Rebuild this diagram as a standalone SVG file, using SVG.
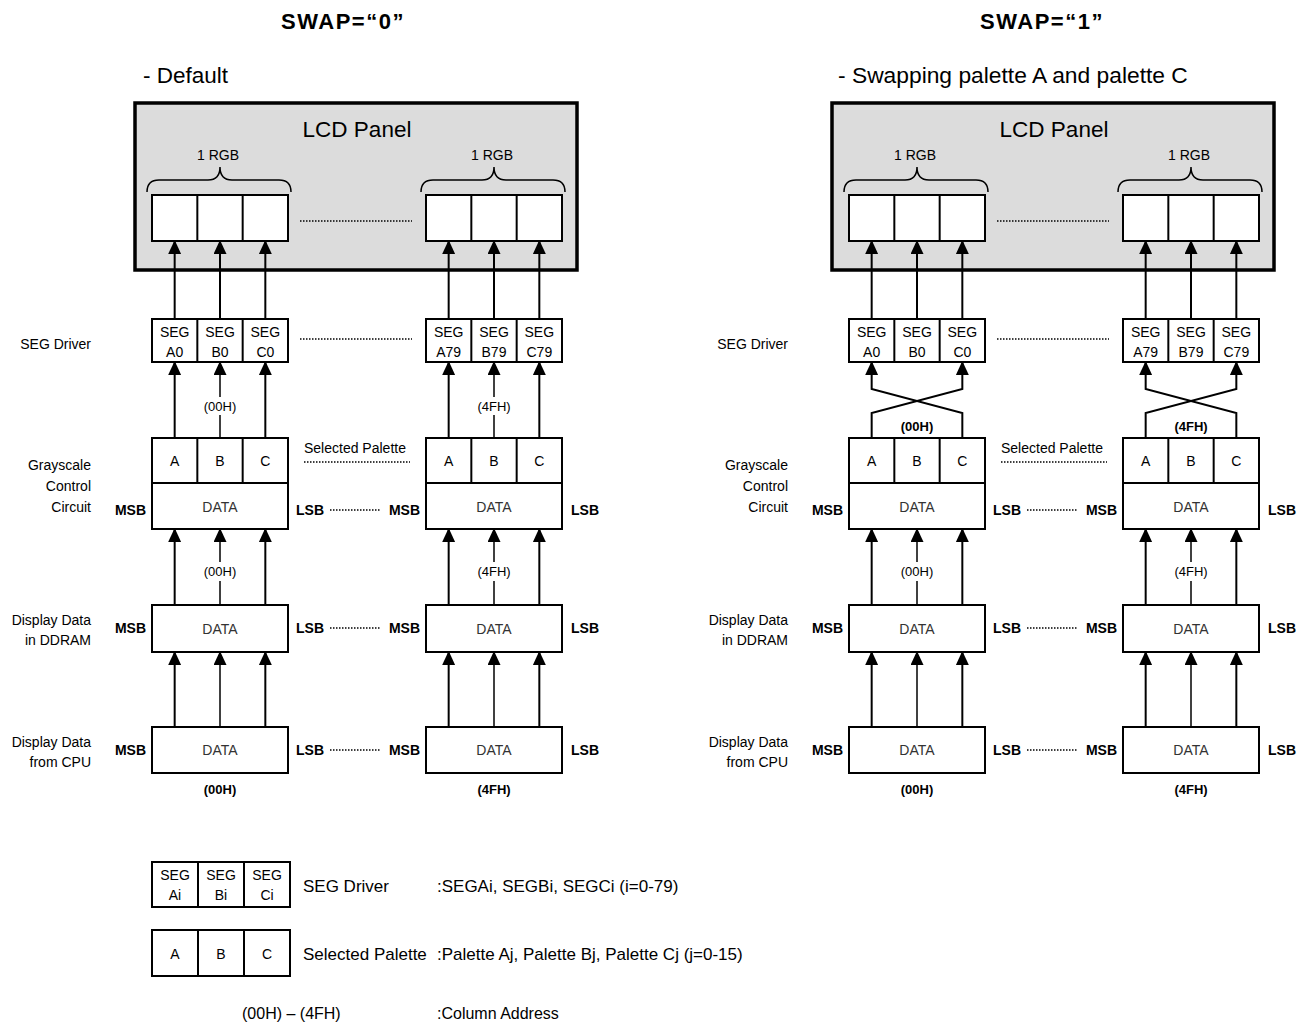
<svg xmlns="http://www.w3.org/2000/svg" width="1308" height="1025" viewBox="0 0 1308 1025">
<style>
.box{fill:#fff;stroke:#000;stroke-width:2}
.ln{stroke:#000;stroke-width:2;fill:none}
.t{font-family:"Liberation Sans",Arial,sans-serif;fill:#000;font-size:14px}
.c{text-anchor:middle}
.e{text-anchor:end}
.b{font-weight:bold}
.g{fill:#333}
.dot{stroke:#000;stroke-width:1.5;stroke-dasharray:1.5 1.5;fill:none}
.ar{stroke:#000;stroke-width:2;fill:none;marker-end:url(#ah)}
.arm{stroke:#000;stroke-width:1.5;fill:none}
.arm2{stroke:#000;stroke-width:1.5;fill:none;marker-end:url(#ah)}
.brace{stroke:#000;stroke-width:1.5;fill:none}
</style>
<defs>
<marker id="ah" viewBox="0 0 14 13" refX="13" refY="6.5" markerWidth="14" markerHeight="13" markerUnits="userSpaceOnUse" orient="auto"><path d="M0,0 L14,6.5 L0,13 z" fill="#000"/></marker>
</defs>
<rect width="1308" height="1025" fill="#fff"/>

<g id="headings">
<text class="t c b" x="343" y="29" style="font-size:22px;letter-spacing:1.5px">SWAP=“0”</text>
<text class="t c b" x="1042" y="29" style="font-size:22px;letter-spacing:1.5px">SWAP=“1”</text>
<text class="t" x="143" y="83" style="font-size:22.5px">- Default</text>
<text class="t" x="838" y="83" style="font-size:22.8px">- Swapping palette A and palette C</text>
</g>

<!-- ================= LEFT (SWAP=0) ================= -->
<g id="left">
<g id="lcd-panel-0">
<rect x="135" y="103" width="442" height="167" fill="#dcdcdc" stroke="#000" stroke-width="3.5"/>
<text class="t c" x="357" y="137" style="font-size:22.5px">LCD Panel</text>
<text class="t c" x="218" y="160">1 RGB</text>
<text class="t c" x="492" y="160">1 RGB</text>
<path class="brace" d="M147,192 Q147,180 159,180 L208,180 Q220,180 220,167 Q220,180 232,180 L279,180 Q291,180 291,192"/>
<path class="brace" d="M421,192 Q421,180 433,180 L482,180 Q494,180 494,167 Q494,180 506,180 L553,180 Q565,180 565,192"/>
<rect class="box" x="152" y="195" width="136" height="46"/>
<line class="ln" x1="197.33" y1="195" x2="197.33" y2="241"/>
<line class="ln" x1="242.67" y1="195" x2="242.67" y2="241"/>
<rect class="box" x="426" y="195" width="136" height="46"/>
<line class="ln" x1="471.33" y1="195" x2="471.33" y2="241"/>
<line class="ln" x1="516.67" y1="195" x2="516.67" y2="241"/>
<line class="dot" x1="300" y1="221" x2="412" y2="221"/>
</g>

<g id="seg-driver-0-00">
<rect class="box" x="152" y="319" width="136" height="43"/>
<line class="ln" x1="197.33" y1="319" x2="197.33" y2="362"/>
<line class="ln" x1="242.67" y1="319" x2="242.67" y2="362"/>
<text class="t c" x="174.67" y="337">SEG</text><text class="t c" x="174.67" y="357">A0</text>
<text class="t c" x="220" y="337">SEG</text><text class="t c" x="220" y="357">B0</text>
<text class="t c" x="265.33" y="337">SEG</text><text class="t c" x="265.33" y="357">C0</text>
</g>
<g id="seg-driver-0-4f">
<rect class="box" x="426" y="319" width="136" height="43"/>
<line class="ln" x1="471.33" y1="319" x2="471.33" y2="362"/>
<line class="ln" x1="516.67" y1="319" x2="516.67" y2="362"/>
<text class="t c" x="448.67" y="337">SEG</text><text class="t c" x="448.67" y="357">A79</text>
<text class="t c" x="494" y="337">SEG</text><text class="t c" x="494" y="357">B79</text>
<text class="t c" x="539.33" y="337">SEG</text><text class="t c" x="539.33" y="357">C79</text>
</g>
<line class="dot" x1="300" y1="339" x2="412" y2="339"/>

<g id="grayscale-0-00">
<rect class="box" x="152" y="438" width="136" height="91"/>
<line class="ln" x1="152" y1="483" x2="288" y2="483"/>
<line class="ln" x1="197.33" y1="438" x2="197.33" y2="483"/>
<line class="ln" x1="242.67" y1="438" x2="242.67" y2="483"/>
<text class="t c" x="174.67" y="466">A</text>
<text class="t c" x="220" y="466">B</text>
<text class="t c" x="265.33" y="466">C</text>
<text class="t c g" x="220" y="512">DATA</text>
</g>
<g id="grayscale-0-4f">
<rect class="box" x="426" y="438" width="136" height="91"/>
<line class="ln" x1="426" y1="483" x2="562" y2="483"/>
<line class="ln" x1="471.33" y1="438" x2="471.33" y2="483"/>
<line class="ln" x1="516.67" y1="438" x2="516.67" y2="483"/>
<text class="t c" x="448.67" y="466">A</text>
<text class="t c" x="494" y="466">B</text>
<text class="t c" x="539.33" y="466">C</text>
<text class="t c g" x="494" y="512">DATA</text>
</g>
<text class="t" x="304" y="453">Selected Palette</text>
<line class="dot" x1="304" y1="462" x2="410" y2="462"/>

<g id="ddram-0-00"><rect class="box" x="152" y="605" width="136" height="47"/><text class="t c g" x="220" y="634">DATA</text></g>
<g id="ddram-0-4f"><rect class="box" x="426" y="605" width="136" height="47"/><text class="t c g" x="494" y="634">DATA</text></g>
<g id="cpu-0-00"><rect class="box" x="152" y="727" width="136" height="46"/><text class="t c g" x="220" y="755">DATA</text></g>
<g id="cpu-0-4f"><rect class="box" x="426" y="727" width="136" height="46"/><text class="t c g" x="494" y="755">DATA</text></g>

<g id="labels-0">
<text class="t e" x="91" y="349">SEG Driver</text>
<text class="t e" x="91" y="470">Grayscale</text>
<text class="t e" x="91" y="491">Control</text>
<text class="t e" x="91" y="512">Circuit</text>
<text class="t e" x="91" y="625">Display Data</text>
<text class="t e" x="91" y="645">in DDRAM</text>
<text class="t e" x="91" y="747">Display Data</text>
<text class="t e" x="91" y="767">from CPU</text>
<text class="t e b" x="146" y="515">MSB</text><text class="t b" x="296" y="515">LSB</text>
<text class="t e b" x="420" y="515">MSB</text><text class="t b" x="571" y="515">LSB</text>
<line class="dot" x1="330" y1="510" x2="381" y2="510"/>
<text class="t e b" x="146" y="633">MSB</text><text class="t b" x="296" y="633">LSB</text>
<text class="t e b" x="420" y="633">MSB</text><text class="t b" x="571" y="633">LSB</text>
<line class="dot" x1="330" y1="628" x2="381" y2="628"/>
<text class="t e b" x="146" y="755">MSB</text><text class="t b" x="296" y="755">LSB</text>
<text class="t e b" x="420" y="755">MSB</text><text class="t b" x="571" y="755">LSB</text>
<line class="dot" x1="330" y1="750" x2="381" y2="750"/>
<text class="t c" x="220" y="411" style="font-size:13px">(00H)</text>
<text class="t c" x="494" y="411" style="font-size:13px">(4FH)</text>
<text class="t c" x="220" y="576" style="font-size:13px">(00H)</text>
<text class="t c" x="494" y="576" style="font-size:13px">(4FH)</text>
<text class="t c b" x="220" y="794" style="font-size:13px">(00H)</text>
<text class="t c b" x="494" y="794" style="font-size:13px">(4FH)</text>
</g>

<g id="connectors-0">
<line class="ar" x1="174.67" y1="319" x2="174.67" y2="241"/>
<line class="ar" x1="220" y1="319" x2="220" y2="241"/>
<line class="ar" x1="265.33" y1="319" x2="265.33" y2="241"/>
<line class="ar" x1="448.67" y1="319" x2="448.67" y2="241"/>
<line class="ar" x1="494" y1="319" x2="494" y2="241"/>
<line class="ar" x1="539.33" y1="319" x2="539.33" y2="241"/>

<line class="ar" x1="174.67" y1="438" x2="174.67" y2="362"/>
<line class="arm" x1="220" y1="438" x2="220" y2="415"/>
<line class="arm2" x1="220" y1="397" x2="220" y2="362"/>
<line class="ar" x1="265.33" y1="438" x2="265.33" y2="362"/>
<line class="ar" x1="448.67" y1="438" x2="448.67" y2="362"/>
<line class="arm" x1="494" y1="438" x2="494" y2="415"/>
<line class="arm2" x1="494" y1="397" x2="494" y2="362"/>
<line class="ar" x1="539.33" y1="438" x2="539.33" y2="362"/>

<line class="ar" x1="174.67" y1="605" x2="174.67" y2="529"/>
<line class="arm" x1="220" y1="605" x2="220" y2="581"/>
<line class="arm2" x1="220" y1="562" x2="220" y2="529"/>
<line class="ar" x1="265.33" y1="605" x2="265.33" y2="529"/>
<line class="ar" x1="448.67" y1="605" x2="448.67" y2="529"/>
<line class="arm" x1="494" y1="605" x2="494" y2="581"/>
<line class="arm2" x1="494" y1="562" x2="494" y2="529"/>
<line class="ar" x1="539.33" y1="605" x2="539.33" y2="529"/>

<line class="ar" x1="174.67" y1="727" x2="174.67" y2="652"/>
<line class="arm2" x1="220" y1="727" x2="220" y2="652"/>
<line class="ar" x1="265.33" y1="727" x2="265.33" y2="652"/>
<line class="ar" x1="448.67" y1="727" x2="448.67" y2="652"/>
<line class="arm2" x1="494" y1="727" x2="494" y2="652"/>
<line class="ar" x1="539.33" y1="727" x2="539.33" y2="652"/>
</g>
</g>

<!-- ================= RIGHT (SWAP=1) ================= -->
<g id="right" transform="translate(697,0)">
<g id="lcd-panel-1">
<rect x="135" y="103" width="442" height="167" fill="#dcdcdc" stroke="#000" stroke-width="3.5"/>
<text class="t c" x="357" y="137" style="font-size:22.5px">LCD Panel</text>
<text class="t c" x="218" y="160">1 RGB</text>
<text class="t c" x="492" y="160">1 RGB</text>
<path class="brace" d="M147,192 Q147,180 159,180 L208,180 Q220,180 220,167 Q220,180 232,180 L279,180 Q291,180 291,192"/>
<path class="brace" d="M421,192 Q421,180 433,180 L482,180 Q494,180 494,167 Q494,180 506,180 L553,180 Q565,180 565,192"/>
<rect class="box" x="152" y="195" width="136" height="46"/>
<line class="ln" x1="197.33" y1="195" x2="197.33" y2="241"/>
<line class="ln" x1="242.67" y1="195" x2="242.67" y2="241"/>
<rect class="box" x="426" y="195" width="136" height="46"/>
<line class="ln" x1="471.33" y1="195" x2="471.33" y2="241"/>
<line class="ln" x1="516.67" y1="195" x2="516.67" y2="241"/>
<line class="dot" x1="300" y1="221" x2="412" y2="221"/>
</g>

<g id="seg-driver-1-00">
<rect class="box" x="152" y="319" width="136" height="43"/>
<line class="ln" x1="197.33" y1="319" x2="197.33" y2="362"/>
<line class="ln" x1="242.67" y1="319" x2="242.67" y2="362"/>
<text class="t c" x="174.67" y="337">SEG</text><text class="t c" x="174.67" y="357">A0</text>
<text class="t c" x="220" y="337">SEG</text><text class="t c" x="220" y="357">B0</text>
<text class="t c" x="265.33" y="337">SEG</text><text class="t c" x="265.33" y="357">C0</text>
</g>
<g id="seg-driver-1-4f">
<rect class="box" x="426" y="319" width="136" height="43"/>
<line class="ln" x1="471.33" y1="319" x2="471.33" y2="362"/>
<line class="ln" x1="516.67" y1="319" x2="516.67" y2="362"/>
<text class="t c" x="448.67" y="337">SEG</text><text class="t c" x="448.67" y="357">A79</text>
<text class="t c" x="494" y="337">SEG</text><text class="t c" x="494" y="357">B79</text>
<text class="t c" x="539.33" y="337">SEG</text><text class="t c" x="539.33" y="357">C79</text>
</g>
<line class="dot" x1="300" y1="339" x2="412" y2="339"/>

<g id="grayscale-1-00">
<rect class="box" x="152" y="438" width="136" height="91"/>
<line class="ln" x1="152" y1="483" x2="288" y2="483"/>
<line class="ln" x1="197.33" y1="438" x2="197.33" y2="483"/>
<line class="ln" x1="242.67" y1="438" x2="242.67" y2="483"/>
<text class="t c" x="174.67" y="466">A</text>
<text class="t c" x="220" y="466">B</text>
<text class="t c" x="265.33" y="466">C</text>
<text class="t c g" x="220" y="512">DATA</text>
</g>
<g id="grayscale-1-4f">
<rect class="box" x="426" y="438" width="136" height="91"/>
<line class="ln" x1="426" y1="483" x2="562" y2="483"/>
<line class="ln" x1="471.33" y1="438" x2="471.33" y2="483"/>
<line class="ln" x1="516.67" y1="438" x2="516.67" y2="483"/>
<text class="t c" x="448.67" y="466">A</text>
<text class="t c" x="494" y="466">B</text>
<text class="t c" x="539.33" y="466">C</text>
<text class="t c g" x="494" y="512">DATA</text>
</g>
<text class="t" x="304" y="453">Selected Palette</text>
<line class="dot" x1="304" y1="462" x2="410" y2="462"/>

<g id="ddram-1-00"><rect class="box" x="152" y="605" width="136" height="47"/><text class="t c g" x="220" y="634">DATA</text></g>
<g id="ddram-1-4f"><rect class="box" x="426" y="605" width="136" height="47"/><text class="t c g" x="494" y="634">DATA</text></g>
<g id="cpu-1-00"><rect class="box" x="152" y="727" width="136" height="46"/><text class="t c g" x="220" y="755">DATA</text></g>
<g id="cpu-1-4f"><rect class="box" x="426" y="727" width="136" height="46"/><text class="t c g" x="494" y="755">DATA</text></g>

<g id="labels-1">
<text class="t e" x="91" y="349">SEG Driver</text>
<text class="t e" x="91" y="470">Grayscale</text>
<text class="t e" x="91" y="491">Control</text>
<text class="t e" x="91" y="512">Circuit</text>
<text class="t e" x="91" y="625">Display Data</text>
<text class="t e" x="91" y="645">in DDRAM</text>
<text class="t e" x="91" y="747">Display Data</text>
<text class="t e" x="91" y="767">from CPU</text>
<text class="t e b" x="146" y="515">MSB</text><text class="t b" x="296" y="515">LSB</text>
<text class="t e b" x="420" y="515">MSB</text><text class="t b" x="571" y="515">LSB</text>
<line class="dot" x1="330" y1="510" x2="381" y2="510"/>
<text class="t e b" x="146" y="633">MSB</text><text class="t b" x="296" y="633">LSB</text>
<text class="t e b" x="420" y="633">MSB</text><text class="t b" x="571" y="633">LSB</text>
<line class="dot" x1="330" y1="628" x2="381" y2="628"/>
<text class="t e b" x="146" y="755">MSB</text><text class="t b" x="296" y="755">LSB</text>
<text class="t e b" x="420" y="755">MSB</text><text class="t b" x="571" y="755">LSB</text>
<line class="dot" x1="330" y1="750" x2="381" y2="750"/>
<text class="t c b" x="220" y="431" style="font-size:13px">(00H)</text>
<text class="t c b" x="494" y="431" style="font-size:13px">(4FH)</text>
<text class="t c" x="220" y="576" style="font-size:13px">(00H)</text>
<text class="t c" x="494" y="576" style="font-size:13px">(4FH)</text>
<text class="t c b" x="220" y="794" style="font-size:13px">(00H)</text>
<text class="t c b" x="494" y="794" style="font-size:13px">(4FH)</text>
</g>

<g id="connectors-1">
<line class="ar" x1="174.67" y1="319" x2="174.67" y2="241"/>
<line class="ar" x1="220" y1="319" x2="220" y2="241"/>
<line class="ar" x1="265.33" y1="319" x2="265.33" y2="241"/>
<line class="ar" x1="448.67" y1="319" x2="448.67" y2="241"/>
<line class="ar" x1="494" y1="319" x2="494" y2="241"/>
<line class="ar" x1="539.33" y1="319" x2="539.33" y2="241"/>

<path class="ar" d="M265.33,438 L265.33,413 L174.67,389 L174.67,362"/>
<path class="ar" d="M174.67,438 L174.67,413 L265.33,389 L265.33,362"/>
<path class="ar" d="M539.33,438 L539.33,413 L448.67,389 L448.67,362"/>
<path class="ar" d="M448.67,438 L448.67,413 L539.33,389 L539.33,362"/>

<line class="ar" x1="174.67" y1="605" x2="174.67" y2="529"/>
<line class="arm" x1="220" y1="605" x2="220" y2="581"/>
<line class="arm2" x1="220" y1="562" x2="220" y2="529"/>
<line class="ar" x1="265.33" y1="605" x2="265.33" y2="529"/>
<line class="ar" x1="448.67" y1="605" x2="448.67" y2="529"/>
<line class="arm" x1="494" y1="605" x2="494" y2="581"/>
<line class="arm2" x1="494" y1="562" x2="494" y2="529"/>
<line class="ar" x1="539.33" y1="605" x2="539.33" y2="529"/>

<line class="ar" x1="174.67" y1="727" x2="174.67" y2="652"/>
<line class="arm2" x1="220" y1="727" x2="220" y2="652"/>
<line class="ar" x1="265.33" y1="727" x2="265.33" y2="652"/>
<line class="ar" x1="448.67" y1="727" x2="448.67" y2="652"/>
<line class="arm2" x1="494" y1="727" x2="494" y2="652"/>
<line class="ar" x1="539.33" y1="727" x2="539.33" y2="652"/>
</g>
</g>

<!-- ================= LEGEND ================= -->
<g id="legend-seg">
<rect class="box" x="152" y="862" width="138" height="45"/>
<line class="ln" x1="198" y1="862" x2="198" y2="907"/>
<line class="ln" x1="244" y1="862" x2="244" y2="907"/>
<text class="t c" x="175" y="880">SEG</text><text class="t c" x="175" y="900">Ai</text>
<text class="t c" x="221" y="880">SEG</text><text class="t c" x="221" y="900">Bi</text>
<text class="t c" x="267" y="880">SEG</text><text class="t c" x="267" y="900">Ci</text>
<text class="t" x="303" y="892" style="font-size:17px">SEG Driver</text>
<text class="t" x="437" y="892" style="font-size:17px">:SEGAi, SEGBi, SEGCi (i=0-79)</text>
</g>
<g id="legend-palette">
<rect class="box" x="152" y="930" width="138" height="46"/>
<line class="ln" x1="198" y1="930" x2="198" y2="976"/>
<line class="ln" x1="244" y1="930" x2="244" y2="976"/>
<text class="t c" x="175" y="959">A</text>
<text class="t c" x="221" y="959">B</text>
<text class="t c" x="267" y="959">C</text>
<text class="t" x="303" y="960" style="font-size:17px">Selected Palette</text>
<text class="t" x="437" y="960" style="font-size:17px">:Palette Aj, Palette Bj, Palette Cj (j=0-15)</text>
</g>
<g id="legend-address">
<text class="t" x="242" y="1019" style="font-size:16px">(00H) – (4FH)</text>
<text class="t" x="437" y="1019" style="font-size:16px">:Column Address</text>
</g>
</svg>
